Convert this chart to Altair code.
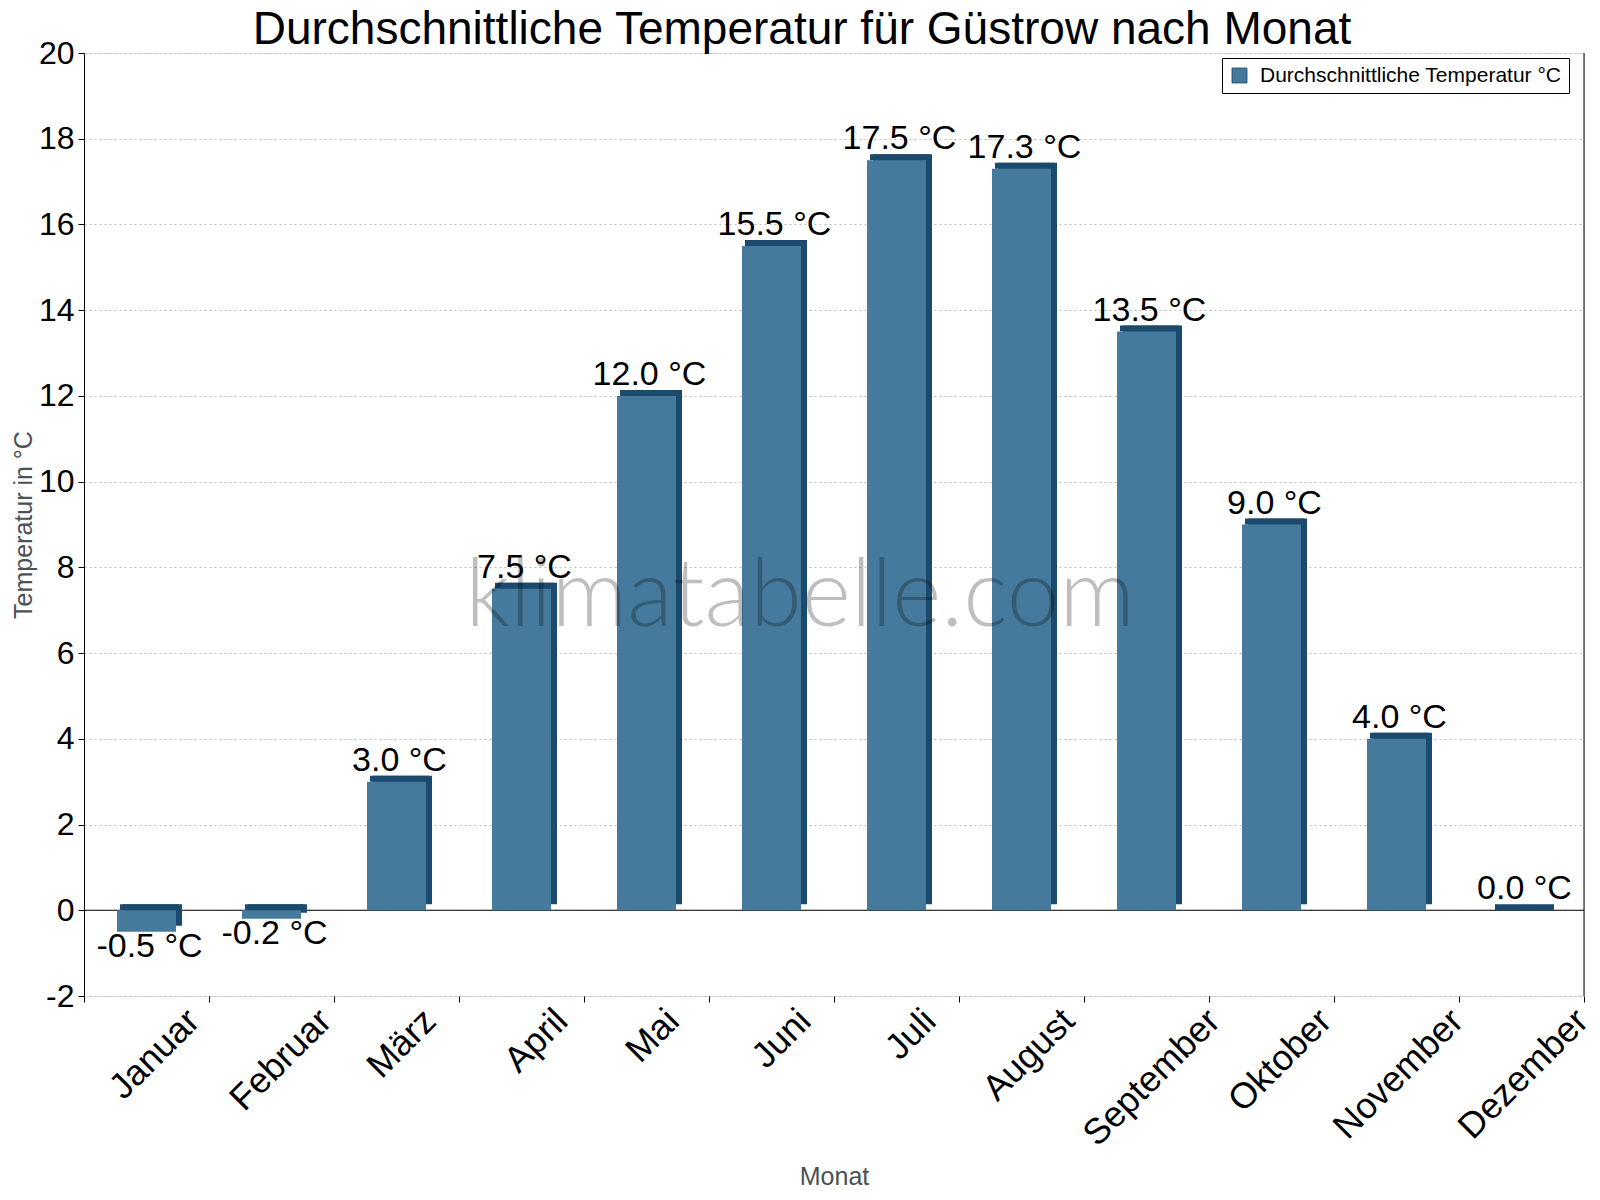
import altair as alt
import pandas as pd

months = ["Januar", "Februar", "März", "April", "Mai", "Juni", "Juli",
          "August", "September", "Oktober", "November", "Dezember"]
temps = [-0.5, -0.2, 3.0, 7.5, 12.0, 15.5, 17.5, 17.3, 13.5, 9.0, 4.0, 0.0]
value_labels = ["-0.5 °C", "-0.2 °C", "3.0 °C", "7.5 °C", "12.0 °C", "15.5 °C",
                "17.5 °C", "17.3 °C", "13.5 °C", "9.0 °C", "4.0 °C", "0.0 °C"]
series_name = "Durchschnittliche Temperatur °C"
y_ticks = [-2, 0, 2, 4, 6, 8, 10, 12, 14, 16, 18, 20]
title_text = "Durchschnittliche Temperatur für Güstrow nach Monat"
watermark = "klimatabelle.com"

FRONT = "#467a9c"
DARK = "#1b4a6c"
FONT = "Liberation Sans"
AXIS_TITLE = "#4b5157"
W, H = 1500, 943

df = pd.DataFrame({
    "Monat": months,
    "temp": temps,
    "label": value_labels,
    "series": [series_name] * len(months),
})
df["top"] = df["temp"].clip(lower=0)

base = alt.Chart(df)

# rotated labels: rotated about their centre, so the end shifts with label length
x_enc = alt.X(
    "Monat:N", sort=months,
    scale=alt.Scale(paddingInner=0, paddingOuter=0),
    axis=alt.Axis(
        title="Monat", labelAngle=-45, labelAlign="right", labelBaseline="middle",
        labelPadding=13, labelOffset={"expr": "6 + length(datum.label) * 6.8"},
        tickBand="extent", domain=False, grid=False,
        tickColor="black", tickSize=6, labelFontSize=36, labelFont=FONT,
        labelColor="black", labelBound=False, labelOverlap=False,
        titleFontSize=25, titleFont=FONT, titleColor=AXIS_TITLE,
        titleFontWeight="normal", titlePadding=12,
    ),
)
y_scale = alt.Scale(domain=[-2, 20], nice=False, zero=False)
y_axis = alt.Axis(
    values=y_ticks, grid=True, gridDash=[2, 3], gridColor="#bbbbbb",
    domainColor="black", tickColor="black", tickSize=6,
    labelFontSize=32, labelFont=FONT, labelColor="black", labelPadding=4,
    labelExpr="'' + datum.value",
    title="Temperatur in °C", titleFontSize=25, titleFont=FONT, titleColor=AXIS_TITLE,
    titleFontWeight="normal", titlePadding=2,
)

one_row = "datum.Monat == 'Januar'"

zero_rule = base.mark_rule(color="black", strokeWidth=1.2).encode(
    y=alt.datum(0, scale=y_scale)
).transform_filter(one_row)

side = base.mark_bar(color=DARK, size=59, xOffset=6, yOffset=-6).encode(
    x=x_enc, y=alt.Y("temp:Q", scale=y_scale, axis=y_axis)
)
top_face = base.mark_tick(color=DARK, thickness=6, size=59, xOffset=3, yOffset=-3,
                          opacity=1, orient="horizontal").encode(
    x=alt.X("Monat:N", sort=months), y=alt.Y("top:Q", scale=y_scale)
)
front = base.mark_bar(size=59).encode(
    x=alt.X("Monat:N", sort=months),
    y=alt.Y("temp:Q", scale=y_scale),
    color=alt.Color("series:N", scale=alt.Scale(range=[FRONT]),
                    legend=alt.Legend(
                        title=None, orient="none", legendX=1138, legendY=5,
                        strokeColor="black", fillColor="white", padding=7,
                        labelFontSize=21, labelFont=FONT, labelColor="black",
                        labelLimit=500,
                        symbolType="square", symbolSize=220, symbolStrokeColor=DARK,
                        symbolStrokeWidth=1, symbolOpacity=1, labelOffset=10,
                    )),
)

pos_labels = base.mark_text(fontSize=34, font=FONT, color="black",
                            baseline="alphabetic", dy=-11, dx=3).encode(
    x=alt.X("Monat:N", sort=months), y=alt.Y("temp:Q", scale=y_scale), text="label:N"
).transform_filter("datum.temp >= 0")
neg_labels = base.mark_text(fontSize=34, font=FONT, color="black",
                            baseline="top", dy=-2, dx=3).encode(
    x=alt.X("Monat:N", sort=months), y=alt.Y("temp:Q", scale=y_scale), text="label:N"
).transform_filter("datum.temp < 0")

right_border = base.mark_rule(color="black").encode(
    x=alt.value(W), y=alt.value(0), y2=alt.value(H)
).transform_filter(one_row)

wm = base.mark_text(text=watermark, fontSize=94, font="Lato", fontWeight=300,
                    color="black", opacity=0.25,
                    align="center", baseline="middle").encode(
    x=alt.value(716), y=alt.value(545)
).transform_filter(one_row)

title = base.mark_text(text=title_text, fontSize=46, font=FONT, color="black",
                       align="center", baseline="alphabetic").encode(
    x=alt.value(718), y=alt.value(-9)
).transform_filter(one_row)

chart = alt.layer(
    zero_rule, side, top_face, front, pos_labels, neg_labels, right_border, wm, title
).properties(
    width=W, height=H,
    autosize=alt.AutoSizeParams(type="none"),
    padding={"left": 76, "top": 45, "right": 8, "bottom": 196},
).configure_view(stroke=None).configure(background="white")

chart.save("out.html", embed_options={"renderer": "svg", "actions": False})
